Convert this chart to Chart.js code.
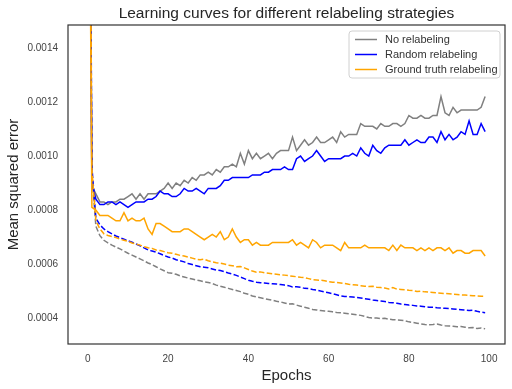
<!DOCTYPE html>
<html lang="en">
  <head>
    <meta charset="UTF-8" />
    <title>Learning curves for different relabeling strategies</title>
    <script src="https://cdn.jsdelivr.net/npm/chart.js@4"></script>
    <style>
      body { margin: 0; background: #fff; }
    </style>
  </head>
  <body>
    <canvas id="myChart" width="512" height="389"></canvas>

    <script>
      // epochs 0..99
      const epochs = [];
      for (let i = 0; i < 100; i++) epochs.push(i);

      const xTicks = [0, 20, 40, 60, 80, 100];
      const yTicks = [0.0004, 0.0006, 0.0008, 0.0010, 0.0012, 0.0014];

      const chartTitle = 'Learning curves for different relabeling strategies';
      const seriesNames = ['No relabeling', 'Random relabeling', 'Ground truth relabeling'];

      // solid lines
      const noRelabelSolid = [
        0.0032, 0.00089, 0.00086, 0.00083, 0.00083, 0.00082, 0.00083, 0.00083, 0.00084, 0.00084,
        0.00085, 0.00086, 0.00084, 0.00086, 0.00084, 0.00086, 0.00086, 0.00086, 0.00087, 0.00088,
        0.00090, 0.00088, 0.00090, 0.00089, 0.00091, 0.00090, 0.00092, 0.00091, 0.00093, 0.00093,
        0.00094, 0.00093, 0.00095, 0.00094, 0.00096, 0.00096, 0.00097, 0.00096, 0.00101, 0.00097,
        0.00102, 0.00099, 0.00101, 0.00099, 0.00100, 0.00101, 0.00099, 0.00101, 0.00102, 0.00102,
        0.00102, 0.00107, 0.00102, 0.00104, 0.00106, 0.00104, 0.00105, 0.00107, 0.00105, 0.00105,
        0.00106, 0.00107, 0.00105, 0.00109, 0.00107, 0.00108, 0.00108, 0.00108, 0.00112, 0.00111,
        0.00111, 0.00111, 0.00110, 0.00112, 0.00111, 0.00111, 0.00112, 0.00112, 0.00111, 0.00112,
        0.00115, 0.00114, 0.00114, 0.00115, 0.00114, 0.00114, 0.00115, 0.00115, 0.00122, 0.00116,
        0.00115, 0.00118, 0.00116, 0.00117, 0.00117, 0.00117, 0.00117, 0.00117, 0.00118, 0.00122
      ];
      const randomSolid = [
        0.0032, 0.00090, 0.00084, 0.00082, 0.00082, 0.00083, 0.00083, 0.00082, 0.00083, 0.00082,
        0.00081, 0.00082, 0.00083, 0.00083, 0.00083, 0.00084, 0.00084, 0.00085, 0.00087, 0.00086,
        0.00086, 0.00085, 0.00085, 0.00086, 0.00088, 0.00087, 0.00087, 0.00088, 0.00087, 0.00086,
        0.00088, 0.00088, 0.00088, 0.00089, 0.00091, 0.00091, 0.00092, 0.00092, 0.00092, 0.00092,
        0.00092, 0.00093, 0.00093, 0.00093, 0.00094, 0.00094, 0.00095, 0.00095, 0.00095, 0.00096,
        0.00095, 0.00095, 0.00099, 0.00100, 0.00098, 0.00099, 0.00100, 0.00102, 0.00100, 0.00098,
        0.00099, 0.00099, 0.00099, 0.00099, 0.00100, 0.00100, 0.00101, 0.00100, 0.00103, 0.00101,
        0.00100, 0.00104, 0.00102, 0.00101, 0.00103, 0.00104, 0.00104, 0.00104, 0.00104, 0.00106,
        0.00104, 0.00105, 0.00106, 0.00105, 0.00105, 0.00107, 0.00107, 0.00105, 0.00109, 0.00106,
        0.00108, 0.00106, 0.00107, 0.00109, 0.00108, 0.00113, 0.00108, 0.00108, 0.00112, 0.00109
      ];
      const groundTruthSolid = [
        0.0030, 0.00081, 0.00080, 0.00078, 0.00078, 0.00078, 0.00077, 0.00076, 0.00076, 0.00079,
        0.00076, 0.00077, 0.00076, 0.00076, 0.00077, 0.00073, 0.00071, 0.00075, 0.00075, 0.00074,
        0.00073, 0.00072, 0.00072, 0.00072, 0.00073, 0.00073, 0.00072, 0.00071, 0.00070, 0.00069,
        0.00070, 0.00071, 0.00070, 0.00072, 0.00069, 0.00070, 0.00073, 0.00070, 0.00068, 0.00069,
        0.00069, 0.00067, 0.00068, 0.00067, 0.00067, 0.00067, 0.00068, 0.00068, 0.00068, 0.00068,
        0.00068, 0.00069, 0.00067, 0.00068, 0.00067, 0.00066, 0.00069, 0.00068, 0.00066, 0.00067,
        0.00067, 0.00067, 0.00066, 0.00065, 0.00068, 0.00066, 0.00066, 0.00066, 0.00066, 0.00067,
        0.00066, 0.00066, 0.00066, 0.00066, 0.00066, 0.00065, 0.00067, 0.00065, 0.00067, 0.00066,
        0.00066, 0.00066, 0.00065, 0.00066, 0.00065, 0.00066, 0.00065, 0.00066, 0.00066, 0.00065,
        0.00066, 0.00064, 0.00065, 0.00065, 0.00064, 0.00064, 0.00065, 0.00065, 0.00065, 0.00063
      ];

      // dashed lines
      const noRelabelDashed = [
        0.0034, 0.00093, 0.000740, 0.000705, 0.000688, 0.000678, 0.000670, 0.000663, 0.000656, 0.000648,
        0.000640, 0.000633, 0.000626, 0.000619, 0.000612, 0.000604, 0.000598, 0.000590, 0.000582, 0.000575,
        0.000568, 0.000566, 0.000562, 0.000556, 0.000552, 0.000548, 0.000545, 0.000541, 0.000538, 0.000534,
        0.000532, 0.000528, 0.000522, 0.000518, 0.000514, 0.000510, 0.000506, 0.000502, 0.000498, 0.000492,
        0.000488, 0.000482, 0.000478, 0.000475, 0.000472, 0.000469, 0.000466, 0.000462, 0.000460, 0.000456,
        0.000452, 0.000453, 0.000448, 0.000444, 0.000440, 0.000436, 0.000432, 0.000430, 0.000428, 0.000426,
        0.000425, 0.000423, 0.000421, 0.000420, 0.000418, 0.000416, 0.000414, 0.000412, 0.000410, 0.000406,
        0.000402, 0.000400, 0.000400, 0.000398, 0.000399, 0.000396, 0.000394, 0.000393, 0.000392, 0.000390,
        0.000386, 0.000384, 0.000381, 0.000378, 0.000376, 0.000375, 0.000376, 0.000378, 0.000374, 0.000372,
        0.000371, 0.000370, 0.000368, 0.000369, 0.000366, 0.000364, 0.000365, 0.000361, 0.000363, 0.000360
      ];
      const randomDashed = [
        0.0036, 0.00096, 0.000770, 0.000745, 0.000730, 0.000720, 0.000712, 0.000704, 0.000698, 0.000692,
        0.000686, 0.000681, 0.000674, 0.000668, 0.000660, 0.000652, 0.000648, 0.000644, 0.000638, 0.000632,
        0.000626, 0.000622, 0.000616, 0.000612, 0.000608, 0.000602, 0.000598, 0.000594, 0.000590, 0.000588,
        0.000586, 0.000582, 0.000578, 0.000576, 0.000572, 0.000567, 0.000563, 0.000558, 0.000552, 0.000546,
        0.000540, 0.000536, 0.000533, 0.000531, 0.000530, 0.000528, 0.000527, 0.000526, 0.000524, 0.000522,
        0.000520, 0.000515, 0.000516, 0.000514, 0.000510, 0.000509, 0.000506, 0.000504, 0.000500, 0.000497,
        0.000494, 0.000490, 0.000486, 0.000482, 0.000480, 0.000479, 0.000478, 0.000476, 0.000474, 0.000472,
        0.000470, 0.000467, 0.000465, 0.000463, 0.000461, 0.000458, 0.000457, 0.000455, 0.000452, 0.000450,
        0.000448, 0.000447, 0.000445, 0.000444, 0.000442, 0.000440, 0.000440, 0.000438, 0.000437, 0.000436,
        0.000435, 0.000434, 0.000432, 0.000431, 0.000430, 0.000428, 0.000429, 0.000425, 0.000422, 0.000420
      ];
      const groundTruthDashed = [
        0.0035, 0.00095, 0.000760, 0.000730, 0.000712, 0.000706, 0.000702, 0.000698, 0.000692, 0.000688,
        0.000684, 0.000678, 0.000674, 0.000670, 0.000664, 0.000660, 0.000658, 0.000652, 0.000650, 0.000646,
        0.000642, 0.000640, 0.000636, 0.000632, 0.000630, 0.000626, 0.000622, 0.000618, 0.000616, 0.000618,
        0.000612, 0.000608, 0.000605, 0.000603, 0.000600, 0.000596, 0.000594, 0.000590, 0.000591, 0.000586,
        0.000580, 0.000574, 0.000570, 0.000571, 0.000568, 0.000566, 0.000564, 0.000562, 0.000560, 0.000559,
        0.000557, 0.000555, 0.000553, 0.000551, 0.000550, 0.000546, 0.000542, 0.000541, 0.000540, 0.000538,
        0.000535, 0.000533, 0.000532, 0.000530, 0.000528, 0.000525, 0.000523, 0.000522, 0.000520, 0.000518,
        0.000517, 0.000518, 0.000514, 0.000513, 0.000511, 0.000508, 0.000513, 0.000507, 0.000506, 0.000505,
        0.000503, 0.000502, 0.000498, 0.000500, 0.000497, 0.000496, 0.000495, 0.000493, 0.000492, 0.000491,
        0.000490, 0.000488, 0.000487, 0.000486, 0.000485, 0.000484, 0.000483, 0.000482, 0.000481, 0.000481
      ];

      const FONT = "'Liberation Sans', Arial, sans-serif";
      const colors = ['#808080', '#0000ff', '#ffa500'];

      function line(label, data, color, dashed, order) {
        return {
          label: label,
          data: data,
          borderColor: color,
          backgroundColor: color,
          borderWidth: 1.5,
          borderDash: dashed ? [5.5, 2.4] : [],
          pointRadius: 0,
          fill: false,
          tension: 0,
          order: order
        };
      }

      // title over the plot area, frame round the axes, legend box inside the plot
      const extras = {
        id: 'extras',
        afterDraw(chart) {
          const ctx = chart.ctx;
          const a = chart.chartArea;
          ctx.save();
          ctx.fillStyle = '#262626';
          ctx.font = '15.5px ' + FONT;
          ctx.textAlign = 'center';
          ctx.textBaseline = 'middle';
          ctx.fillText(chartTitle, (a.left + a.right) / 2, 14);

          ctx.strokeStyle = '#333';
          ctx.lineWidth = 1.2;
          ctx.strokeRect(a.left, a.top, a.right - a.left, a.bottom - a.top);

          const bx = 349, by = 31, bw = 151, bh = 47;
          ctx.beginPath();
          ctx.roundRect(bx, by, bw, bh, 3);
          ctx.fillStyle = 'rgba(255,255,255,0.85)';
          ctx.fill();
          ctx.strokeStyle = '#d0d0d0';
          ctx.lineWidth = 1;
          ctx.stroke();

          ctx.font = '11px ' + FONT;
          ctx.textAlign = 'left';
          seriesNames.forEach((name, i) => {
            const y = by + 8.5 + i * 15;
            ctx.strokeStyle = colors[i];
            ctx.lineWidth = 1.5;
            ctx.beginPath();
            ctx.moveTo(bx + 6, y);
            ctx.lineTo(bx + 28, y);
            ctx.stroke();
            ctx.fillStyle = '#333';
            ctx.fillText(name, bx + 36, y);
          });
          ctx.restore();
        }
      };

      const ctx = document.getElementById('myChart').getContext('2d');
      const myChart = new Chart(ctx, {
        type: 'line',
        data: {
          labels: epochs,
          datasets: [
            line(seriesNames[0], noRelabelSolid, colors[0], false, 5),
            line(seriesNames[0] + ' (dashed)', noRelabelDashed, colors[0], true, 4),
            line(seriesNames[1], randomSolid, colors[1], false, 3),
            line(seriesNames[1] + ' (dashed)', randomDashed, colors[1], true, 2),
            line(seriesNames[2], groundTruthSolid, colors[2], false, 1),
            line(seriesNames[2] + ' (dashed)', groundTruthDashed, colors[2], true, 0)
          ]
        },
        options: {
          responsive: false,
          animation: false,
          layout: { padding: { left: 0, right: 7, top: 25, bottom: 0 } },
          plugins: {
            legend: { display: false },
            tooltip: { enabled: false },
            title: { display: false }
          },
          scales: {
            x: {
              type: 'linear',
              min: -4.95,
              max: 103.95,
              afterBuildTicks: s => { s.ticks = xTicks.map(v => ({ value: v })); },
              afterFit: s => { s.height = 45; },
              grid: { display: false, drawTicks: false },
              border: { display: false },
              ticks: { color: '#444', padding: 9, font: { family: FONT, size: 10 } },
              title: {
                display: true,
                text: 'Epochs',
                color: '#262626',
                font: { family: FONT, size: 15 },
                padding: { top: 0, bottom: 4 }
              }
            },
            y: {
              min: 0.000304,
              max: 0.001485,
              afterBuildTicks: s => { s.ticks = yTicks.map(v => ({ value: v })); },
              afterFit: s => { s.width = 68; },
              grid: { display: false, drawTicks: false },
              border: { display: false },
              ticks: {
                color: '#444',
                padding: 10,
                font: { family: FONT, size: 10 },
                callback: v => v.toFixed(4)
              },
              title: {
                display: true,
                text: 'Mean squared error',
                color: '#262626',
                font: { family: FONT, size: 15 },
                padding: { top: 5, bottom: 0 }
              }
            }
          }
        },
        plugins: [extras]
      });
    </script>
  </body>
</html>
